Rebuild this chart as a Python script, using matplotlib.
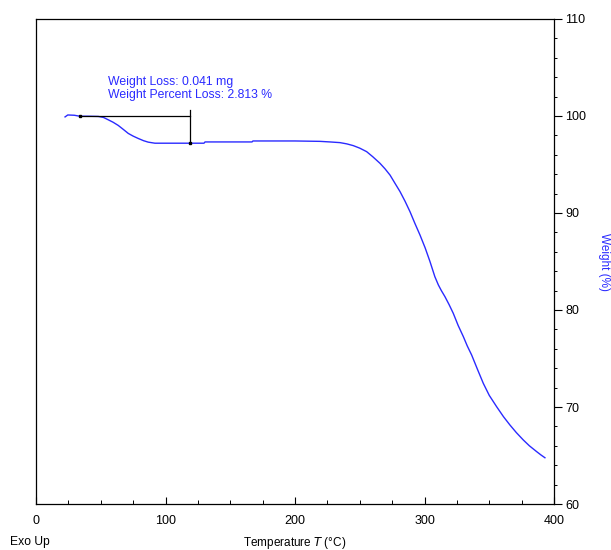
import matplotlib
matplotlib.use("Agg")
import matplotlib.pyplot as plt
from matplotlib.ticker import MultipleLocator

# TGA curve
temperature = [22.4, 24.5, 29.6, 33.7, 40, 48, 52, 55.8, 59.5, 63.5, 67.5, 71.2,
               75, 78.9, 83, 86.6, 91.8, 110, 129.7, 130.5, 166.8, 167.5, 200,
               219.3, 227, 234.7, 240, 245, 250, 255.3, 260, 265.6, 269.5,
               273.4, 277, 281.1, 285, 288.8, 292.5, 296.5, 300.5, 304.2, 308,
               310.7, 313, 315.8, 319, 322.2, 326, 330, 333, 336.4, 341, 345.4,
               350, 355.7, 361, 366, 371, 376.3, 381, 386.6, 390, 393]
weight = [99.9, 100.1, 100.07, 99.97, 99.97, 99.95, 99.85, 99.6, 99.35, 99.02,
          98.6, 98.2, 97.92, 97.68, 97.45, 97.3, 97.19, 97.19, 97.19, 97.32,
          97.32, 97.42, 97.42, 97.38, 97.32, 97.25, 97.12, 96.94, 96.68,
          96.32, 95.8, 95.12, 94.55, 93.9, 93.1, 92.2, 91.2, 90.13, 88.95,
          87.73, 86.4, 85.0, 83.43, 82.58, 82.0, 81.37, 80.55, 79.66, 78.4,
          77.25, 76.3, 75.36, 73.85, 72.44, 71.2, 70.03, 69.0, 68.14, 67.35,
          66.6, 66.0, 65.4, 65.05, 64.77]

loss_start = (33.7, 99.97)
loss_end = (119, 97.19)
annot_lines = ["Weight Loss: 0.041 mg", "Weight Percent Loss: 2.813 %"]

plt.rcParams['font.family'] = ['Liberation Sans', 'DejaVu Sans']

fig = plt.figure(figsize=(6.11, 5.5), dpi=100)
ax = fig.add_axes([0.059, 0.0836, 0.8477, 0.882])

ax.plot(temperature, weight, color='#2a2aff', lw=1.0)

# step annotation
ax.plot([loss_start[0], loss_end[0]], [loss_start[1], loss_start[1]], color='black', lw=0.9)
ax.plot([loss_end[0], loss_end[0]], [100.6, loss_end[1]], color='black', lw=0.9)
ax.plot([loss_start[0], loss_end[0]], [loss_start[1], loss_end[1]], 'ks', ms=2, ls='none')
ax.text(55.5, 103.5, annot_lines[0], color='#2a2aff', fontsize=8.8, va='center')
ax.text(55.5, 102.15, annot_lines[1], color='#2a2aff', fontsize=8.8, va='center')

ax.set_xlim(0, 400)
ax.set_ylim(60, 110)
ax.xaxis.set_major_locator(MultipleLocator(100))
ax.xaxis.set_minor_locator(MultipleLocator(25))
ax.yaxis.set_major_locator(MultipleLocator(10))
ax.yaxis.set_minor_locator(MultipleLocator(2))
ax.yaxis.tick_right()
ax.tick_params(axis='x', which='major', direction='in', length=5, width=0.8, labelsize=9, pad=8)
ax.tick_params(axis='x', which='minor', direction='in', length=3, width=0.7)
ax.tick_params(axis='y', which='major', direction='out', length=6, width=0.8, labelsize=9, pad=2)
ax.tick_params(axis='y', which='minor', direction='out', length=2, width=0.7)
for s in ax.spines.values():
    s.set_linewidth(0.9)

fig.text(604 / 611, 1 - 262 / 550, 'Weight (%)', color='#2a2aff', fontsize=8.5,
         rotation=270, ha='center', va='center')
fig.text(295 / 611, 1 - 543 / 550, r'Temperature $\it{T}$ (°C)', fontsize=8.5, ha='center', va='center')
fig.text(10 / 611, 1 - 542 / 550, 'Exo Up', fontsize=8.7, ha='left', va='center')

fig.savefig('out.png', dpi=100)
